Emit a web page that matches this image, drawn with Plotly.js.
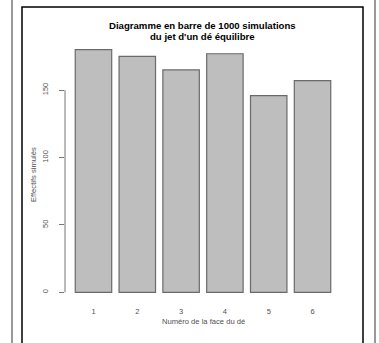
<!DOCTYPE html>
<html>
<head>
<meta charset="utf-8">
<script src="https://cdn.plot.ly/plotly-3.0.1.min.js"></script>
<style>html,body{margin:0;padding:0;background:#fff;}#chart{width:379px;height:343px;}</style>
</head>
<body>
<div id="chart"></div>
<script>
const faces = ['1', '2', '3', '4', '5', '6'];
const counts = [180, 175, 165, 177, 146, 157];
const yTicks = [0, 50, 100, 150];
const titleLines = ['Diagramme en barre de 1000 simulations', 'du jet d\'un dé équilibre'];
const xTitle = 'Numéro de la face du dé';
const yTitle = 'Effectifs simulés';

const yMax = Math.max(...counts);
const pad = 0.04 * yMax;
const txtColor = '#505050';
const fam = 'Liberation Sans, Arial, sans-serif';

// plot area in pixels
const L = 65, R = 38, T = 40, B = 41;
const PW = 379 - L - R, PH = 343 - T - B;
const px = x => (x - L) / PW;
const py = y => (343 - B - y) / PH;

const trace = {
  type: 'bar',
  x: faces,
  y: counts,
  marker: {color: '#bebebe', line: {color: '#6a6a6a', width: 1.2}},
  hoverinfo: 'skip'
};

const layout = {
  template: {},
  width: 379, height: 343,
  margin: {l: L, r: R, t: T, b: B},
  paper_bgcolor: '#fff', plot_bgcolor: '#fff',
  showlegend: false,
  bargap: 0.168,
  font: {family: fam, color: txtColor},
  xaxis: {
    type: 'category',
    range: [-0.65, 5.65],
    showline: false, showgrid: false, zeroline: false,
    ticks: '', ticklen: 0,
    tickfont: {family: fam, size: 7.5, color: txtColor},
    ticklabelstandoff: 3
  },
  yaxis: {
    range: [-pad, yMax + pad],
    tickvals: yTicks,
    ticktext: yTicks.map(String),
    showline: false, showgrid: false, zeroline: false,
    ticks: 'outside', ticklen: 5, tickcolor: '#777', tickwidth: 1,
    tickangle: -90,
    tickfont: {family: fam, size: 7.5, color: txtColor},
    ticklabelstandoff: 8
  },
  annotations: [
    {text: '<b>' + titleLines[0] + '</b>', xref: 'paper', yref: 'paper', x: px(202), y: py(25), xanchor: 'center', yanchor: 'middle', showarrow: false, font: {family: fam, size: 9.6, color: '#000'}},
    {text: '<b>' + titleLines[1] + '</b>', xref: 'paper', yref: 'paper', x: px(202), y: py(37), xanchor: 'center', yanchor: 'middle', showarrow: false, font: {family: fam, size: 9.6, color: '#000'}},
    {text: xTitle, xref: 'paper', yref: 'paper', x: 0.5, y: py(321), xanchor: 'center', yanchor: 'middle', showarrow: false, font: {family: fam, size: 7.6, color: txtColor}},
    {text: yTitle, xref: 'paper', yref: 'y', x: px(33), y: (yTicks[0] + yTicks[yTicks.length - 1]) / 2 + 12, xanchor: 'center', yanchor: 'middle', textangle: -90, showarrow: false, font: {family: fam, size: 7.6, color: txtColor}}
  ],
  shapes: [
    {type: 'line', xref: 'paper', yref: 'y', x0: 0, x1: 0, y0: yTicks[0], y1: yTicks[yTicks.length - 1], line: {color: '#777', width: 1}},
    {type: 'rect', xref: 'paper', yref: 'paper', x0: px(22), x1: px(363), y0: -0.3, y1: py(7), line: {color: '#000', width: 1.5}, fillcolor: 'rgba(0,0,0,0)'},
    {type: 'line', xref: 'paper', yref: 'paper', x0: px(12), x1: px(12), y0: -0.3, y1: 1.3, line: {color: '#777', width: 1.5}},
    {type: 'line', xref: 'paper', yref: 'paper', x0: px(375), x1: px(375), y0: -0.3, y1: 1.3, line: {color: '#777', width: 1.5}}
  ]
};

Plotly.newPlot('chart', [trace], layout, {displayModeBar: false, staticPlot: true});
</script>
</body>
</html>
